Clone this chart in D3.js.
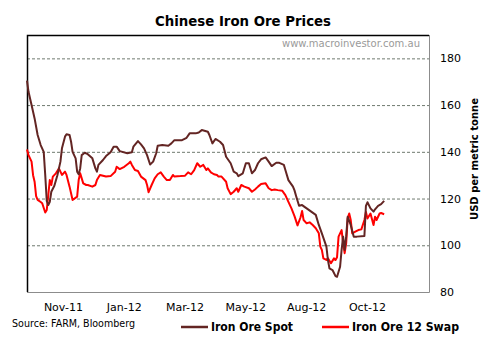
<!DOCTYPE html>
<html>
<head>
<meta charset="utf-8">
<script src="https://cdn.jsdelivr.net/npm/d3@7"></script>
<style>
  body { margin: 0; background: white; }
  text { font-family: "DejaVu Sans", Tahoma, sans-serif; }
</style>
</head>
<body>
<div id="chart1"></div>
<script>
// data, x = trading day index from the first point

var spotDays = [0,1,3,5,7,9,11,12,13,14,15,16,18,20,22,23,25,26,28,29,30,32,33,34,35,36,38,40,43,45,46,47,50,52,55,57,59,61,66,69,70,73,75,77,79,81,83,85,86,89,93,95,97,102,105,107,111,113,115,119,120,122,124,127,129,131,134,136,138,139,142,144,146,148,150,152,154,157,159,161,164,166,169,170,172,175,176,177,179,181,184,187,190,192,194,197,198,199,201,203,204,206,207,208,209,210,211,213,215,217,222,223,224,226,228,229,231,233,235];
var spotPrices = [170.5,165.7,160,154.3,147.2,142.9,140,130,119,117.2,118.6,122.9,125.5,130,135.8,141.5,146.5,147.5,147.2,144.3,140,137.2,131.5,130.4,132.9,138.6,139.6,139,137.2,132.9,131.5,134.4,136.5,138.2,139.8,142.2,142.2,140.3,139.4,139.8,142.2,144.6,143.2,141.5,138.6,134.6,135.8,139.4,142.6,142.9,142.6,143.6,145,145,146,147.9,147.9,148.3,149.3,148.6,147.2,143.6,145.5,144.3,142.9,137.9,135.1,131.5,130.8,129.6,130.8,135.1,135.1,130.8,132.2,135.1,136.8,137.6,135.8,133.9,135.3,135.3,134.4,132.2,127.9,125.1,123.5,121.2,116.9,117.2,115.8,114.4,113,108.7,105.1,99.4,93.7,90.1,89.4,86.8,86.5,90.8,98,103.7,98,103.7,112.2,108.7,103.7,103.7,104,116.9,118.4,115.8,114.4,115.4,116.9,117.6,119];

var swapDays = [0,1,3,4,5,6,7,9,10,12,13,15,16,17,19,21,23,25,26,28,30,33,34,35,37,39,40,43,45,46,48,52,55,58,59,61,64,67,68,69,71,73,75,78,79,80,82,84,86,88,90,92,94,96,97,101,104,106,108,110,112,114,116,118,119,121,123,125,126,128,131,132,134,136,138,139,141,143,146,148,150,152,154,157,159,161,163,165,168,170,172,174,176,178,180,181,182,184,186,188,190,192,193,194,195,197,198,200,202,203,204,205,207,208,209,210,211,212,213,214,216,218,220,222,223,224,226,228,229,230,232,233,235];
var swapPrices = [141,138.6,135.8,130,127.2,121,119.4,118.5,118,114,115.1,127.9,125.8,129.4,130.8,132.9,130.1,131.5,130.1,125.1,119.4,120.8,127.9,130.8,126.5,125.8,125.8,125.1,125.8,127.9,130.1,129.4,129.6,131.5,133.6,132.6,133.6,135.1,135.8,134.4,132.2,131.8,129.4,127.9,125.8,122.7,125.8,128.6,130.4,131.2,129.4,127.9,127.9,130.1,129.4,129.6,129.8,131.2,130.4,132.2,135.1,133.6,134.4,132.2,132.9,131.2,130.4,130.1,129.4,129.4,127.2,124.4,121.9,122.9,124.4,122.9,125.8,125.1,124.4,122.9,123.9,125.1,126.2,126.5,124.4,123.6,123.9,123.6,123.3,121.5,118.6,115.8,112.5,108.5,112,114.7,110.8,109.4,109.8,108.7,107.3,105.1,99.4,98,94.4,93.7,94.4,92.3,94.4,93.7,94.9,103.7,106.5,100.8,96.6,100.8,111.5,113.6,110.8,105.1,105.8,106.5,106.8,110.8,114.3,111.5,113.6,108.7,112.2,110.8,113.6,113.8,113.3];

var xTickDays = [24, 64, 104, 144, 184, 224];
var xTickLabels = ["Nov-11", "Jan-12", "Mar-12", "May-12", "Aug-12", "Oct-12"];
var yTicks = [80, 100, 120, 140, 160, 180];

var seriesNames = ["Iron Ore Spot", "Iron Ore 12 Swap"];
var seriesColours = ["#632523", "#ff0000"];

//GLOBALS
W = 485;
H = 345;
plotBox = {left: 27, top: 35, right: 429, bottom: 292};

function start() {
  svg = d3.select("#chart1")
      .append("svg")
      .attr("width", W)
      .attr("height", H);

  x = d3.scaleLinear()
      .domain([0, 264.5])
      .range([plotBox.left, plotBox.right]);

  y = d3.scaleLinear()
      .domain([80, 190])
      .range([plotBox.bottom, plotBox.top]);

  // title
  svg.append("text")
      .attr("x", 155)
      .attr("y", 26)
      .attr("font-size", "14px")
      .attr("font-weight", "bold")
      .attr("textLength", 176)
      .attr("lengthAdjust", "spacingAndGlyphs")
      .text("Chinese Iron Ore Prices");

  // gridlines
  svg.append("g")
      .attr("class", "grid")
    .selectAll("line")
      .data(yTicks.filter(d => d > 80))
      .join("line")
      .attr("x1", plotBox.left)
      .attr("x2", plotBox.right)
      .attr("y1", d => y(d) + 0.5)
      .attr("y2", d => y(d) + 0.5)
      .attr("stroke", "#6f7a6f")
      .attr("stroke-dasharray", "3,2");

  // frame (dark left/top, grey right/bottom)
  svg.append("path")
      .attr("d", "M" + plotBox.right + "," + (plotBox.top + 0.5) + "H" + (plotBox.left + 0.5) + "V" + plotBox.bottom)
      .attr("fill", "none")
      .attr("stroke", "black")
      .attr("stroke-width", 1.5);
  svg.append("path")
      .attr("d", "M" + plotBox.left + "," + (plotBox.bottom + 0.5) + "H" + (plotBox.right + 0.5) + "V" + plotBox.top)
      .attr("fill", "none")
      .attr("stroke", "#8c8c8c");

  // watermark
  svg.append("text")
      .attr("x", 420)
      .attr("y", 47)
      .attr("text-anchor", "end")
      .attr("font-size", "10px")
      .attr("fill", "#9a9a9a")
      .text("www.macroinvestor.com.au");

  // y labels on the right
  svg.append("g")
    .selectAll("text")
      .data(yTicks)
      .join("text")
      .attr("x", 440)
      .attr("y", d => y(d))
      .attr("dy", "0.36em")
      .attr("font-size", "11px")
      .text(d => d);

  svg.append("text")
      .attr("transform", "translate(478," + 159 + ") rotate(-90)")
      .attr("text-anchor", "middle")
      .attr("font-size", "11px")
      .attr("font-weight", "bold")
      .attr("textLength", 122)
      .attr("lengthAdjust", "spacingAndGlyphs")
      .text("USD per metric tonne");

  // x labels
  svg.append("g")
    .selectAll("text")
      .data(xTickDays)
      .join("text")
      .attr("x", d => x(d))
      .attr("y", 311)
      .attr("text-anchor", "middle")
      .attr("font-size", "11px")
      .text((d, i) => xTickLabels[i]);

  svg.append("text")
      .attr("x", 12)
      .attr("y", 327)
      .attr("font-size", "11px")
      .attr("textLength", 123)
      .attr("lengthAdjust", "spacingAndGlyphs")
      .text("Source: FARM, Bloomberg");

  drawPlot();
  drawLegend();
}

function drawPlot() {
  var line = d3.line()
      .x(d => x(d[0]))
      .y(d => y(d[1]));

  var spot = d3.zip(spotDays, spotPrices);
  var swap = d3.zip(swapDays, swapPrices);

  svg.append("path")
      .datum(swap)
      .attr("fill", "none")
      .attr("stroke", seriesColours[1])
      .attr("stroke-width", 2)
      .attr("stroke-linejoin", "round")
      .attr("d", line);

  svg.append("path")
      .datum(spot)
      .attr("fill", "none")
      .attr("stroke", seriesColours[0])
      .attr("stroke-width", 2)
      .attr("stroke-linejoin", "round")
      .attr("d", line);
}

function drawLegend() {
  var legendX = [181, 322];
  var textW = [82, 107];
  var items = svg.append("g")
    .selectAll("g")
      .data(seriesNames)
      .join("g")
      .attr("transform", (d, i) => "translate(" + legendX[i] + ",327)");

  items.append("line")
      .attr("x1", 0)
      .attr("x2", 27)
      .attr("stroke", (d, i) => seriesColours[i])
      .attr("stroke-width", 2.5);

  items.append("text")
      .attr("x", 30)
      .attr("dy", "0.36em")
      .attr("font-size", "12px")
      .attr("font-weight", "bold")
      .attr("textLength", (d, i) => textW[i])
      .attr("lengthAdjust", "spacingAndGlyphs")
      .text(d => d);
}

function init() {
  start();
}

window.onload = init;
</script>
</body>
</html>
